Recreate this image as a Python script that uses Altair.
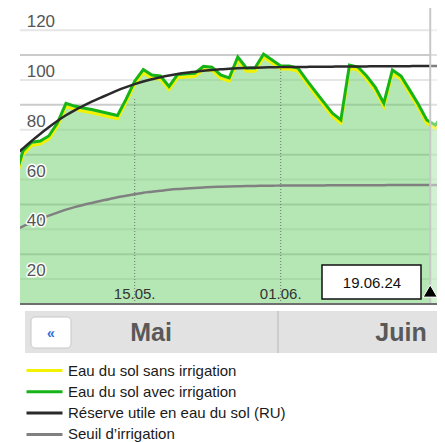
import altair as alt
import pandas as pd

# ---------------- data ----------------
days = list(range(1, 52))  # 1 = 01.05., 32 = 01.06.

sans_irrigation = [48.5, 60, 63.7, 64.2, 66.2, 71.4, 79.3, 78.2, 77.4, 76.8,
                   76, 75.2, 74.4, 81, 88.2, 92.9, 90.7, 90.3, 86.1, 90.9,
                   91.2, 91.4, 94.2, 93.8, 90.7, 89.5, 97.9, 93.5, 93.5, 99.1,
                   96.8, 94.4, 94.4, 93.5, 88.8, 84.2, 79.8, 75.4, 72.6, 94.7,
                   94, 90.3, 85.8, 79.4, 92.7, 90.3, 84.7, 79, 72.6, 70.6, 75.4]

avec_irrigation = [50, 61.5, 65, 65.5, 67.5, 72.7, 80.6, 79.5, 78.7, 78.1,
                   77.3, 76.5, 75.7, 82.3, 89.5, 94.2, 92, 91.6, 87.4, 92.2,
                   92.5, 92.7, 95.5, 95.1, 92, 90.8, 99.2, 94.8, 94.8, 100.4,
                   98, 95.6, 95.6, 94.8, 90, 85.5, 81.1, 76.7, 73.9, 96,
                   95.2, 91.6, 87.1, 80.7, 94, 91.6, 86, 80.3, 73.9, 71.9, 76.7]

reserve_utile = [59.5, 62.5, 65.5, 68.3, 71, 73.5, 75.8, 77.8, 79.6, 81.3,
                 82.8, 84.3, 85.8, 87.1, 88.3, 89.4, 90.3, 91.1, 91.8, 92.4,
                 92.9, 93.3, 93.7, 94, 94.3, 94.5, 94.7, 94.8, 94.9, 95,
                 95.1, 95.15, 95.2, 95.2, 95.25, 95.3, 95.3, 95.35, 95.4, 95.4,
                 95.4, 95.45, 95.5, 95.5, 95.5, 95.5, 95.55, 95.6, 95.6, 95.6, 95.6]

seuil_irrigation = [29.8, 31.2, 32.7, 34.1, 35.5, 36.7, 37.9, 38.9, 39.8, 40.6,
                    41.4, 42.1, 42.9, 43.5, 44.1, 44.7, 45.1, 45.5, 45.9, 46.2,
                    46.4, 46.6, 46.8, 47, 47.1, 47.2, 47.3, 47.4, 47.4, 47.5,
                    47.5, 47.6, 47.6, 47.6, 47.6, 47.65, 47.65, 47.7, 47.7, 47.7,
                    47.7, 47.75, 47.75, 47.75, 47.8, 47.8, 47.8, 47.8, 47.8, 47.8, 47.8]

series_labels = ["Eau du sol sans irrigation", "Eau du sol avec irrigation",
                 "Réserve utile en eau du sol (RU)", "Seuil d’irrigation"]
series_colors = ["#f2f200", "#17b417", "#2a2a2a", "#808080"]

grid_major = [20, 40, 60, 80, 100, 120]
grid_minor = [10, 30, 50, 70, 90, 110]
y_labels = [20, 40, 60, 80, 100, 120]

tick_days = [15, 32]
tick_labels = ["15.05.", "01.06."]
tick_tops = [83, 95]

today_day = 49.4
today_label = "19.06.24"
month_labels = ["Mai", "Juin"]

# ---------------- frames ----------------
def series_df(vals, label):
    return pd.DataFrame({"day": days, "value": vals, "series": label})

df_sans = series_df(sans_irrigation, series_labels[0])
df_avec = series_df(avec_irrigation, series_labels[1])
df_ru = series_df(reserve_utile, series_labels[2])
df_seuil = series_df(seuil_irrigation, series_labels[3])

W, H = 417, 296
FONT = "Liberation Sans"

xs = alt.Scale(domain=[1.65, 50.19], nice=False, zero=False)
ys = alt.Scale(domain=[0, 118.9], nice=False, zero=False)
X = alt.X("day:Q", scale=xs, axis=None)
Y = alt.Y("value:Q", scale=ys, axis=None)

color_enc = alt.Color(
    "series:N",
    scale=alt.Scale(domain=series_labels, range=series_colors),
    legend=alt.Legend(
        orient="none", legendX=5, legendY=352, title=None,
        symbolType="stroke", symbolSize=1296, symbolStrokeWidth=3,
        labelFont=FONT, labelFontSize=15, labelColor="#1a1a1a", labelLimit=400,
        labelOffset=4, rowPadding=0.3, clipHeight=21, padding=0,
    ),
)

one = pd.DataFrame({"a": [0]})

grid_maj = alt.Chart(pd.DataFrame({"value": grid_major})).mark_rule(
    color="#cbcbcb", strokeWidth=2).encode(y=Y)
grid_min = alt.Chart(pd.DataFrame({"value": grid_minor})).mark_rule(
    color="#e6e6e6", strokeWidth=2).encode(y=Y)

area = alt.Chart(df_avec).mark_area(color="#73d273", opacity=0.53, clip=True).encode(x=X, y=Y)

line_seuil = alt.Chart(df_seuil).mark_line(strokeWidth=2.5, interpolate="monotone", clip=True).encode(
    x=X, y=Y, color=color_enc)
line_sans = alt.Chart(df_sans).mark_line(strokeWidth=3, clip=True).encode(x=X, y=Y, color=color_enc)
line_avec = alt.Chart(df_avec).mark_line(strokeWidth=3, clip=True).encode(x=X, y=Y, color=color_enc)
line_ru = alt.Chart(df_ru).mark_line(strokeWidth=2.5, interpolate="monotone", clip=True).encode(
    x=X, y=Y, color=color_enc)

today_df = pd.DataFrame({"day": [today_day], "label": [today_label]})
forecast = alt.Chart(today_df).mark_rect(color="white", opacity=0.4).encode(
    x=X, x2=alt.value(W), y=alt.value(0), y2=alt.value(H))
today_rule = alt.Chart(today_df).mark_rule(color="#c8c8c8", strokeWidth=2).encode(
    x=X, y=alt.value(0), y2=alt.value(H))

ticks_df = pd.DataFrame({"day": tick_days, "value": [0, 0], "top": tick_tops, "label": tick_labels})
dotted = alt.Chart(ticks_df).mark_rule(color="#707070", strokeWidth=1, strokeDash=[1, 2]).encode(
    x=X, y=Y, y2="top:Q")
tick_text = alt.Chart(ticks_df).mark_text(font=FONT, fontSize=15, color="#333333",
                                          baseline="alphabetic", align="center").encode(
    x=X, y=alt.value(291), text="label:N")

axis_line = alt.Chart(pd.DataFrame({"value": [0]})).mark_rule(color="#6e6e6e", strokeWidth=2).encode(y=Y)

ylab_df = pd.DataFrame({"value": y_labels, "label": [str(v) for v in y_labels]})
ylab_halo = alt.Chart(ylab_df).mark_text(font=FONT, fontSize=17, align="left", baseline="alphabetic",
                                         dy=22, fill="white", stroke="white", strokeWidth=3,
                                         strokeJoin="round").encode(
    x=alt.value(6.7), y=Y, text="label:N")
ylab = alt.Chart(ylab_df).mark_text(font=FONT, fontSize=17, align="left", baseline="alphabetic",
                                    dy=22, color="#555555").encode(
    x=alt.value(6.7), y=Y, text="label:N")

# month navigation bar
bar = alt.Chart(one).mark_rect(color="#e2e2e2").encode(
    x=alt.value(5), x2=alt.value(W), y=alt.value(303), y2=alt.value(345))
divider = alt.Chart(one).mark_rule(color="#c4c4c4", strokeWidth=1.5).encode(
    x=alt.value(258), y=alt.value(303), y2=alt.value(345))
button = alt.Chart(one).mark_rect(fill="white", stroke="#c8c8c8", strokeWidth=1, cornerRadius=4).encode(
    x=alt.value(11), x2=alt.value(51), y=alt.value(309), y2=alt.value(340))
button_txt = alt.Chart(pd.DataFrame({"t": ["«"]})).mark_text(
    font=FONT, fontSize=14, fontWeight="bold", color="#2f6fd8", baseline="middle").encode(
    x=alt.value(31), y=alt.value(326), text="t:N")
mai = alt.Chart(pd.DataFrame({"t": [month_labels[0]]})).mark_text(
    font=FONT, fontSize=25, fontWeight="bold", color="#595959", baseline="alphabetic").encode(
    x=alt.value(131), y=alt.value(333), text="t:N")
juin = alt.Chart(pd.DataFrame({"t": [month_labels[1]]})).mark_text(
    font=FONT, fontSize=25, fontWeight="bold", color="#595959", baseline="alphabetic").encode(
    x=alt.value(381), y=alt.value(333), text="t:N")

# date box and marker
box = alt.Chart(one).mark_rect(fill="white", stroke="#111111", strokeWidth=1.5).encode(
    x=alt.value(302), x2=alt.value(401), y=alt.value(257), y2=alt.value(291))
box_txt = alt.Chart(today_df).mark_text(font=FONT, fontSize=15, color="#111111", baseline="middle").encode(
    x=alt.value(352), y=alt.value(275), text="label:N")
marker = alt.Chart(today_df).mark_point(shape="triangle-up", filled=True, size=200, fill="black",
                                        stroke="white", strokeWidth=1, opacity=1).encode(
    x=X, y=alt.value(283))

chart = alt.layer(
    grid_maj, grid_min, area, line_seuil, line_sans, line_avec, line_ru,
    forecast, today_rule, dotted, tick_text, axis_line, ylab_halo, ylab,
    bar, divider, button, button_txt, mai, juin, box, box_txt, marker,
).properties(
    width=W, height=H,
    autosize=alt.AutoSizeParams(type="none"),
    padding={"left": 12, "top": 0, "right": 0, "bottom": 140},
).configure_view(stroke="transparent")

chart.save("out.html", embed_options={"renderer": "svg", "actions": False})
